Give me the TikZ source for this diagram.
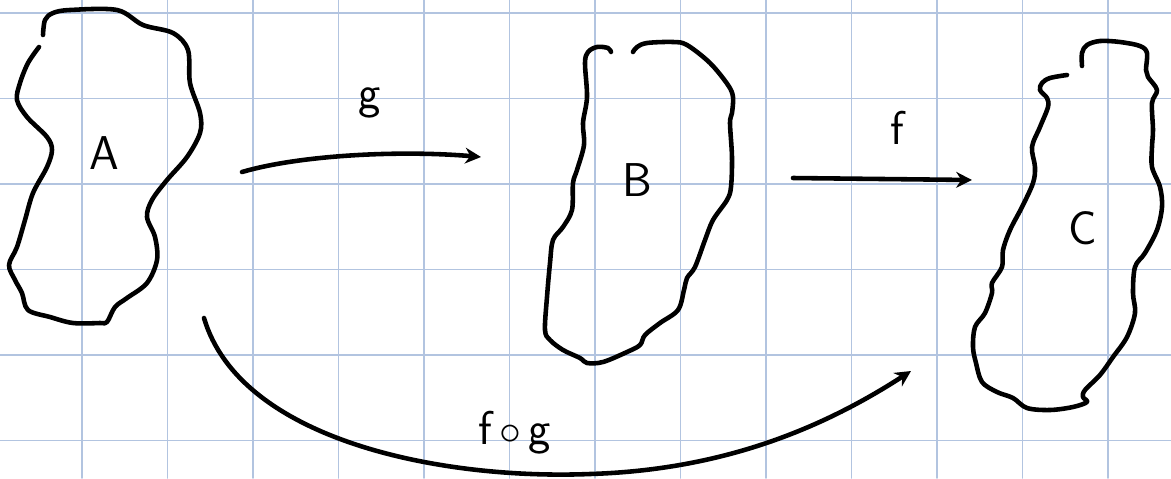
\documentclass[tikz,border=0pt]{standalone}
\usepackage{tikz}
\usetikzlibrary{arrows.meta,calc}
\definecolor{gridc}{RGB}{178,196,224}

\begin{document}
\begin{tikzpicture}[x=0.02cm,y=-0.02cm,line join=round,line cap=round,
  ink/.style={line width=2.6pt,black},
  blob/.style={ink,smooth,tension=0.55},
  maparrow/.style={ink,-{Stealth[length=9pt,width=9pt]}},
  lbl/.style={font=\fontsize{27}{30}\selectfont\sffamily,inner sep=0pt}]
  \useasboundingbox (0,0) rectangle (1171,478);
  \foreach \k in {0,...,12} \draw[gridc,line width=0.9pt] ({82+85.5*\k},0)--({82+85.5*\k},478);
  \foreach \k in {0,...,5} \draw[gridc,line width=0.9pt] (0,{13+85.5*\k})--(1171,{13+85.5*\k});
  % the three sets
  \draw[blob] plot coordinates {(43,35) (45,20) (53,13) (70,10) (117,10) (143,25) (173,33) (188,50) (190,83) (200,113) (200,133) (187,157) (167,180) (152,200) (147,217) (155,237) (157,260) (147,283) (127,298) (115,307) (107,322) (100,323) (73,323) (50,317) (28,310) (22,293) (15,280) (9,265) (17,247) (25,220) (33,193) (47,167) (52,150) (47,137) (27,117) (17,100) (20,83) (28,63) (39,47)};
  \draw[blob] plot coordinates {(611,52) (608,48) (597,47) (588,52) (585,63) (587,97) (583,123) (584,145) (577,170) (573,183) (572,210) (563,227) (553,240) (550,263) (547,297) (545,330) (550,340) (563,350) (580,358) (587,363) (603,362) (627,352) (640,345) (645,335) (660,323) (678,310) (684,290) (687,278) (695,267) (705,240) (713,220) (727,200) (731,187) (732,157) (730,123) (732,113) (733,97) (728,85) (710,63) (687,45) (673,42) (647,43) (637,47) (633,52)};
  \draw[blob] plot coordinates {(1082,66) (1082,53) (1087,45) (1100,41) (1120,42) (1140,46) (1147,53) (1146,70) (1148,77) (1157,90) (1152,103) (1153,130) (1152,147) (1152,167) (1160,187) (1162,207) (1157,230) (1145,253) (1135,267) (1133,293) (1135,313) (1127,337) (1113,357) (1100,375) (1085,390) (1083,397) (1087,402) (1073,407) (1050,410) (1027,408) (1013,398) (997,392) (982,382) (976,363) (973,347) (975,327) (985,313) (992,293) (992,283) (1002,267) (1003,250) (1010,230) (1022,207) (1033,183) (1035,167) (1032,147) (1040,127) (1048,107) (1047,98) (1040,90) (1042,83) (1050,78) (1067,75)};
  \node[lbl] (A) at (104,153) {A};
  \node[lbl] (B) at (637,180) {B};
  \node[lbl] (C) at (1083,228) {C};
  % the maps
  \coordinate (gs) at (242,172); \coordinate (ge) at (481,157);
  \coordinate (fs) at (793,178); \coordinate (fe) at (972,180);
  \coordinate (hs) at (204,318); \coordinate (he) at (911,371);
  \draw[maparrow] (gs) .. controls (300,155) and (400,150) .. (ge);
  \draw[maparrow] (fs) -- (fe);
  \draw[maparrow] (hs) .. controls (240,440) and (440,480) .. (590,474) .. controls (720,470) and (820,430) .. (he);
  \node[lbl] (glbl) at (370,103) {g};
  \node[lbl] (flbl) at (897,128) {f};
  \node[lbl] (fglbl) at (515,433) {f$\,\circ\,$g};
\end{tikzpicture}
\end{document}
